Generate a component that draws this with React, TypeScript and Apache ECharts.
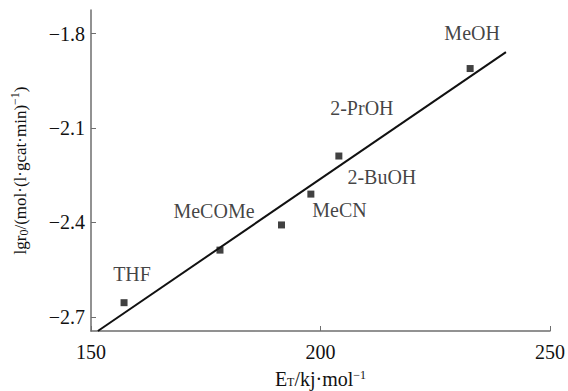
import React, { useEffect, useRef } from "react";
import * as echarts from "echarts";

const solvents = ["THF", "MeCOMe", "MeCN", "2-BuOH", "2-PrOH", "MeOH"];
const etValues = [157.2, 178.1, 191.5, 197.9, 204.0, 232.6];
const lgrValues = [-2.655, -2.488, -2.408, -2.31, -2.189, -1.911];
const fitX = [151.5, 240.4];
const fitY = [-2.745, -1.859];
const yTicks = [-2.7, -2.4, -2.1, -1.8];

// label offsets (px) relative to each point
const labelOffsets: Record<string, [number, number]> = {
  THF: [8, -29],
  MeCOMe: [-6, -39],
  MeCN: [58, -15],
  "2-BuOH": [71, -17],
  "2-PrOH": [23, -48],
  MeOH: [2, -36],
};

const FONT = "Liberation Serif";
const TXT = "#111";

export default function App() {
  const ref = useRef<HTMLDivElement>(null);
  useEffect(() => {
    if (!ref.current) return;
    const chart = echarts.init(ref.current, undefined, { renderer: "svg" });
    const tick = { fontFamily: FONT, fontSize: 20, color: TXT };
    const lbl = { fontFamily: FONT, fontSize: 20, color: TXT };
    const yname = { fontFamily: FONT, fontSize: 17, color: TXT };
    chart.setOption({
      animation: false,
      backgroundColor: "#fff",
      grid: {
        left: 91,
        right: 18,
        top: 10,
        bottom: 60,
        containLabel: false,
        outerBoundsMode: "none",
      },
      xAxis: {
        type: "value",
        min: 150,
        max: 250,
        interval: 50,
        splitLine: { show: false },
        axisLine: { lineStyle: { color: "#6e6e6e", width: 1.5 } },
        axisTick: { inside: true, length: 5, lineStyle: { color: "#6e6e6e" } },
        axisLabel: { ...tick, margin: 11 },
        name: "{a|E}{sub|T}{a|/kj·mol}{sup|−1}",
        nameLocation: "middle",
        nameGap: 37,
        nameTextStyle: {
          ...lbl,
          rich: {
            a: { ...lbl, lineHeight: 22 },
            sub: { fontFamily: FONT, fontSize: 12, color: TXT, padding: [6, 0, 0, 0] },
            sup: { fontFamily: FONT, fontSize: 12, color: TXT, padding: [0, 0, 9, 0] },
          },
        },
      },
      yAxis: {
        type: "value",
        min: -2.745,
        max: -1.725,
        splitLine: { show: false },
        axisLine: { show: true, lineStyle: { color: "#6e6e6e", width: 1.5 } },
        axisTick: {
          show: true,
          inside: true,
          length: 5,
          customValues: yTicks,
          lineStyle: { color: "#6e6e6e" },
        },
        axisLabel: {
          ...tick,
          margin: 6,
          customValues: yTicks,
          formatter: (v: number) => v.toFixed(1).replace("-", "−"),
        },
        name: "{a|lgr}{sub|0}{a|/(mol·(l·gcat·min)}{sup|−1}{a|)}",
        nameLocation: "middle",
        nameGap: 60,
        nameTextStyle: {
          ...yname,
          rich: {
            a: { ...yname },
            sub: { fontFamily: FONT, fontSize: 12, color: TXT, padding: [8, 0, 0, 0] },
            sup: { fontFamily: FONT, fontSize: 12, color: TXT, padding: [0, 0, 10, 0] },
          },
        },
      },
      series: [
        {
          type: "line",
          data: fitX.map((x, i) => [x, fitY[i]]),
          showSymbol: false,
          lineStyle: { color: "#111", width: 2 },
          z: 2,
        },
        {
          type: "scatter",
          symbol: "rect",
          symbolSize: 7,
          itemStyle: { color: "#111" },
          z: 3,
          data: solvents.map((name, i) => ({
            name,
            value: [etValues[i], lgrValues[i]],
            label: {
              show: true,
              position: "inside",
              offset: labelOffsets[name],
              formatter: name,
              ...lbl,
            },
          })),
        },
      ],
    });
    return () => chart.dispose();
  }, []);
  return (
    <div
      ref={ref}
      style={{ position: "absolute", left: 0, top: 0, width: 568, height: 391 }}
    />
  );
}
